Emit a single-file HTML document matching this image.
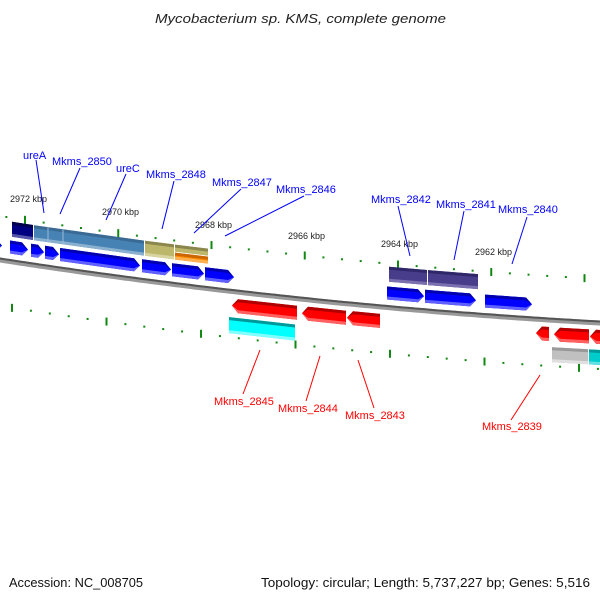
<!DOCTYPE html>
<html><head><meta charset="utf-8"><style>
html,body{margin:0;padding:0;background:#fff;}
svg{display:block;}
.t{font-family:"Liberation Sans","DejaVu Sans",sans-serif;}
</style></head><body>
<svg id="s" width="600" height="600" xmlns="http://www.w3.org/2000/svg" class="t">
<rect width="600" height="600" fill="#fff"/>
<text x="155" y="23" font-size="13" font-style="italic" fill="#222" textLength="291" lengthAdjust="spacingAndGlyphs">Mycobacterium sp. KMS, complete genome</text>
<text x="9" y="587" font-size="13" fill="#111" textLength="134" lengthAdjust="spacingAndGlyphs">Accession: NC_008705</text>
<text x="261" y="587" font-size="13" fill="#111" textLength="329" lengthAdjust="spacingAndGlyphs">Topology: circular; Length: 5,737,227 bp; Genes: 5,516</text>
<g id="g"></g>
<g font-size="9" fill="#222">
<text x="10" y="202">2972 kbp</text>
<text x="102" y="215">2970 kbp</text>
<text x="195" y="228">2968 kbp</text>
<text x="288" y="239">2966 kbp</text>
<text x="381" y="247">2964 kbp</text>
<text x="475" y="255">2962 kbp</text>
</g>
<g stroke="#0000ff" stroke-width="1">
<line x1="36" y1="160" x2="44" y2="213"/>
<line x1="80" y1="168" x2="60" y2="214"/>
<line x1="126" y1="174" x2="106" y2="220"/>
<line x1="174" y1="181" x2="162" y2="229"/>
<line x1="241" y1="189" x2="194" y2="233"/>
<line x1="304" y1="196" x2="225" y2="236"/>
<line x1="398" y1="206" x2="410" y2="256"/>
<line x1="464" y1="211" x2="454" y2="260"/>
<line x1="527" y1="217" x2="512" y2="264"/>
</g>
<g font-size="11" fill="#0000ff">
<text x="23" y="159">ureA</text>
<text x="52" y="165">Mkms_2850</text>
<text x="116" y="172">ureC</text>
<text x="146" y="178">Mkms_2848</text>
<text x="212" y="186">Mkms_2847</text>
<text x="276" y="193">Mkms_2846</text>
<text x="371" y="203">Mkms_2842</text>
<text x="436" y="208">Mkms_2841</text>
<text x="498" y="213">Mkms_2840</text>
</g>
<g stroke="#ff0000" stroke-width="1">
<line x1="260" y1="350" x2="243" y2="394"/>
<line x1="320" y1="356" x2="306" y2="401"/>
<line x1="358" y1="360" x2="374" y2="408"/>
<line x1="540" y1="375" x2="511" y2="420"/>
</g>
<g font-size="11" fill="#ff0000">
<text x="214" y="405">Mkms_2845</text>
<text x="278" y="412">Mkms_2844</text>
<text x="345" y="419">Mkms_2843</text>
<text x="482" y="430">Mkms_2839</text>
</g>
</svg>
<script>
(function(){
var NS="http://www.w3.org/2000/svg",g=document.getElementById("g");
function B(x){return 260+0.155*x-0.0000833*x*x;}
function el(n,a){var e=document.createElementNS(NS,n);for(var k in a)e.setAttribute(k,a[k]);g.appendChild(e);return e;}
function poly(pts,fill){el("polygon",{points:pts.map(function(p){return p[0].toFixed(1)+","+p[1].toFixed(1)}).join(" "),fill:fill});}
function band(x1,x2,o1,o2,fill){poly([[x1,B(x1)+o1],[x2,B(x2)+o1],[x2,B(x2)+o2],[x1,B(x1)+o2]],fill);}
function arrow(x1,x2,o1,o2,dir,cT,cM,cB){
  var h=6,om=(o1+o2)/2;
  function shape(a,b,c){
    var pts;
    if(dir>0){var xb=Math.max(x1,x2-h);pts=[[x1,B(x1)+a],[xb,B(xb)+a],[x2,B(x2)+om],[xb,B(xb)+b],[x1,B(x1)+b]];}
    else{var xb=Math.min(x2,x1+h);pts=[[x1,B(x1)+om],[xb,B(xb)+a],[x2,B(x2)+a],[x2,B(x2)+b],[xb,B(xb)+b]];}
    poly(pts,c);
  }
  shape(o1,o2,cM);
  shape(o1,o1+3,cT);
  shape(o2-3,o2,cB);
}
function box(x1,x2,o1,o2,cT,cM,cB){band(x1,x2,o1,o2,cM);band(x1,x2,o1,o1+3,cT);band(x1,x2,o2-3,o2,cB);}
var d="M-5,"+B(-5);for(var x=0;x<=605;x+=5)d+=" L"+x+","+B(x).toFixed(1);
el("path",{d:d,stroke:"#999",fill:"none","stroke-width":5});
el("path",{d:d,stroke:"#555",fill:"none","stroke-width":2,transform:"translate(0,-1.5)"});
for(var i=-2;i<40;i++){var x=25+i*18.65;if(x<0||x>600)continue;var maj=(i%5==0);
  var y=B(x)-44;el("line",{x1:x,y1:maj?y-4:y-1,x2:x,y2:maj?y+4:y+1,stroke:"#118811","stroke-width":2});}
for(var i=-1;i<40;i++){var x=12+i*18.9;if(x<0||x>600)continue;var maj=(i%5==0);
  var y=B(x)+46;el("line",{x1:x,y1:maj?y-4:y-1,x2:x,y2:maj?y+4:y+1,stroke:"#118811","stroke-width":2});}
box(12,33,-40,-25,"#00004a","#000080","#5555aa");
box(34,144,-40,-25,"#3a6a94","#4682b4","#8ab0d0");
el("line",{x1:48,y1:B(48)-40,x2:48,y2:B(48)-25,stroke:"#9bbbd8","stroke-width":1});
el("line",{x1:63,y1:B(63)-40,x2:63,y2:B(63)-25,stroke:"#9bbbd8","stroke-width":1});
box(145,174,-40,-25,"#8a864e","#bdb76b","#d8d4a0");
box(175,208,-40,-33,"#8a864e","#bdb76b","#bdb76b");
box(175,208,-32,-25,"#cc6600","#ff8c00","#ffb050");
box(389,427,-41,-26,"#2e2768","#483d8b","#7a70b0");
box(428,478,-41,-26,"#2e2768","#483d8b","#7a70b0");
var bT="#0000b0",bM="#0000ff",bB="#6060ff";
[[-10,2],[10,28],[31,44],[45,59],[60,140],[142,171],[172,204],[205,234],[387,424],[425,476],[485,532]].forEach(function(r){arrow(r[0],r[1],-21,-8,1,bT,bM,bB);});
var rT="#b00000",rM="#ff0000",rB="#ff6060";
[[232,297],[302,346],[347,380],[536,549],[554,589],[590,605]].forEach(function(r){arrow(r[0],r[1],7,21,-1,rT,rM,rB);});
box(229,295,26,42,"#009999","#00ffff","#80ffff");
box(552,588,27,42,"#999","#c0c0c0","#e0e0e0");
box(589,605,27,42,"#009999","#00cccc","#60e0e0");
})();
</script>
</body></html>
